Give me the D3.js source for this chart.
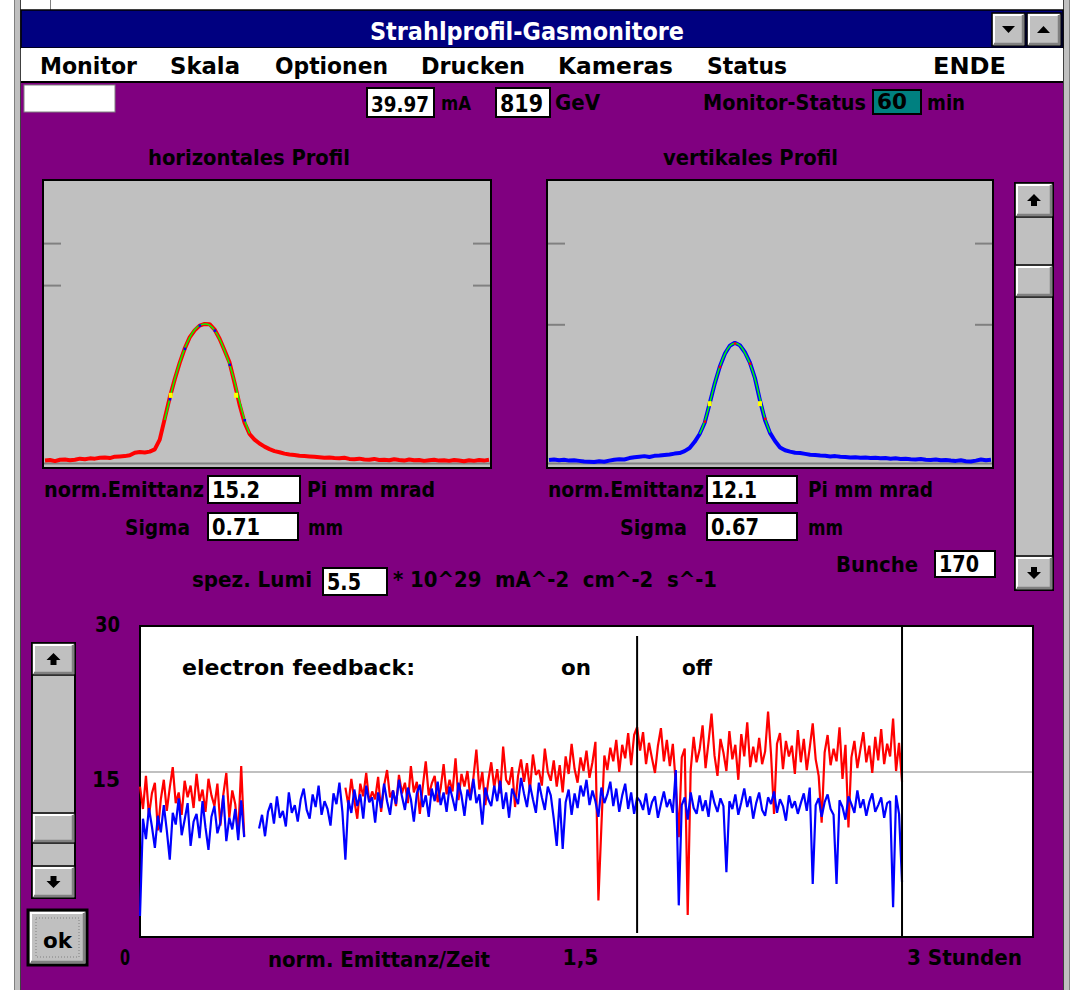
<!DOCTYPE html>
<html>
<head>
<meta charset="utf-8">
<script src="https://cdn.jsdelivr.net/npm/d3@7"></script>
<style>
  body { margin: 0; background: #fff; }
  svg text { font-family: "DejaVu Sans Condensed", "Liberation Sans Narrow", "DejaVu Sans", sans-serif; font-weight: bold; white-space: pre; }
</style>
</head>
<body>
<svg id="screen" width="1078" height="990"></svg>
<script>
// ---- Daten ----
const menuItems = ['Monitor', 'Skala', 'Optionen', 'Drucken', 'Kameras', 'Status', 'ENDE'];
const strom = '39.97', energie = '819', statusMin = '60';

// horizontales Profil (rot), ein Wert je Kanal
const hProfil = [0.5, 0.7, 0.3, 0.8, 0.9, 0.6, 0.8, 1.2, 1.0, 1.3,
  1.2, 1.5, 1.6, 1.4, 1.9, 2.0, 2.1, 2.4, 3.3, 3.6,
  3.4, 3.7, 4.5, 8.0, 15.5, 23.0, 29.5, 35.4, 40.5, 44.5,
  47.0, 48.7, 49.3, 49.2, 47.3, 44.0, 39.8, 35.5, 28.2, 20.5,
  14.0, 10.0, 8.0, 6.6, 5.5, 4.6, 3.9, 3.5, 3.0, 2.7,
  2.5, 2.2, 2.1, 2.0, 1.9, 1.7, 1.5, 1.6, 1.4, 1.3,
  1.5, 1.1, 1.0, 1.2, 0.9, 0.8, 1.1, 0.7, 0.8, 0.6,
  1.0, 0.7, 0.5, 0.9, 0.6, 0.7, 0.4, 0.6, 0.8, 0.5,
  0.6, 0.4, 0.7, 0.5, 0.3, 0.6, 0.4, 0.7, 0.5, 0.8];
const hFitStart = 24;
const hFit = [15.0, 22.5, 29.5, 35.5, 40.5, 44.4, 47.2, 48.8, 49.3, 48.9,
  47.0, 43.9, 39.7, 34.8, 28.6, 21.6, 15.0, 10.2];
const hSigmaPts = [[25.2, 24.0], [38.3, 24.0]];
const hTicks = [63, 78];

// vertikales Profil (blau)
const vProfil = [0.7, 0.9, 0.6, 0.8, 0.5, 0.6, 0.4, 0.2, 0.1, 0.0,
  0.3, 0.1, 0.5, 0.8, 1.0, 0.9, 1.4, 1.7, 1.9, 2.1,
  1.8, 2.2, 2.3, 2.5, 2.7, 3.0, 3.2, 3.9, 5.0, 7.2,
  10.0, 14.0, 21.0, 28.0, 34.0, 38.6, 41.5, 42.6, 41.7, 39.2,
  35.5, 30.0, 22.0, 15.0, 10.4, 7.5, 5.2, 4.2, 3.7, 3.3,
  3.2, 2.9, 2.6, 2.5, 2.3, 2.2, 2.0, 2.1, 1.9, 1.8,
  1.6, 1.7, 1.5, 1.6, 1.4, 1.5, 1.3, 1.4, 1.2, 1.3,
  1.1, 1.2, 1.0, 0.9, 1.1, 0.8, 0.7, 0.9, 0.6, 0.7,
  0.5, 0.4, 0.6, 0.3, 0.2, 0.5, 0.9, 0.6, 0.8];
const vFitStart = 30;
const vFit = [10.0, 14.5, 21.0, 28.0, 34.0, 38.5, 41.4, 42.4, 41.6, 39.0,
  35.2, 29.8, 22.5, 15.5, 10.5];
const vSigmaPts = [[32.0, 21.0], [42.0, 21.0]];
const vTicks = [49, 78];

// Emittanz ueber Zeit, ein Wert alle 0.01 Stunden ab 0
const dt = 0.01;
const emitH = [
  13.5, 11.2, 14.6, 10.5, 12.8, 13.9, 9.0, 12.2, 14.2, 11.0,
  13.4, 15.5, 11.8, 12.9, 10.6, 14.1, 12.4, 13.6, 11.3, 14.8,
  12.0, 13.2, 10.9, 14.3, 12.6, 11.5, 13.8, 9.5, 12.7, 14.9,
  10.3, 13.1, 11.7, 8.6, 15.6, 8.4,
  null, null, null, null, null, null, null, null, null, null,
  null, null, null, null, null, null, null, null, null, null,
  null, null, null, null, null, null, null, null, null, null,
  null, null, null,
  13.4, 11.6, 14.3, 12.1, 10.2, 13.8, 12.5, 14.9, 11.9, 13.0,
  12.2, 14.5, 10.9, 13.6, 15.2, 12.4, 13.1, 11.5, 14.7, 12.8,
  13.9, 11.8, 15.6, 12.9, 14.0, 10.7, 13.5, 16.1, 12.6, 13.8,
  14.6, 11.9, 13.3, 15.8, 12.7, 14.2, 13.0, 16.4, 12.1, 14.8,
  13.5, 15.1, 12.3, 14.4, 17.3, 13.2, 15.0, 11.6, 14.1, 16.0,
  13.4, 15.3, 12.8, 17.6, 14.2, 13.7, 15.5, 11.4, 14.6, 16.3,
  14.0, 15.9, 13.1, 16.8, 14.7, 15.2, 13.6, 17.4, 15.0, 14.1,
  16.2, 13.5, 15.7, 12.9, 16.6, 14.8, 17.9, 15.3, 13.9, 16.5,
  15.1, 17.2, 14.4, 16.0, 18.1, 1.8, 9.4, 16.7, 15.2, 17.5,
  16.1, 18.3, 15.0, 17.8, 16.4, 19.0, 15.7, 18.8, 19.6,
  17.2, 19.1, 15.8, 18.0, 16.4, 14.9, 17.7, 19.5, 16.1, 18.3,
  15.6, 17.9, 13.8, 8.3, 16.5, 17.4, 0.3, 15.2, 18.6, 16.0,
  17.3, 19.8, 15.4, 18.1, 21.0, 16.7, 14.6, 18.4, 17.0, 15.1,
  19.2, 16.3, 17.8, 14.2, 18.9, 16.6, 20.1, 15.5, 17.6, 16.0,
  18.5, 15.8, 17.1, 21.2, 16.8, 10.7, 17.9, 19.0, 15.3, 18.2,
  16.6, 17.7, 14.8, 19.3, 16.0, 18.4, 15.2, 17.5, 20.0, 16.3,
  14.6, 9.8, 17.0, 18.8, 15.7, 17.4, 16.1, 19.6, 14.3, 17.8,
  9.3, 16.5, 18.2, 15.4, 17.3, 19.1, 16.0, 17.7, 14.9, 18.6,
  16.2, 19.4, 15.8, 17.9, 16.6, 20.5, 15.1, 18.0, 14.0];
const emitV = [
  0.2, 10.2, 8.1, 11.3, 9.4, 7.2, 10.5, 8.8, 11.6, 9.0,
  6.0, 10.8, 9.6, 12.3, 8.5, 10.1, 11.8, 7.4, 9.9, 10.7,
  8.2, 12.0, 9.3, 7.0, 10.4, 11.5, 8.7, 9.8, 12.6, 7.9,
  10.3, 9.1, 11.2, 8.0, 12.1, 8.3,
  null, null, null, null,
  9.2, 10.6, 8.4, 10.9, 11.8, 9.7, 12.5, 10.3, 11.0, 9.4,
  12.9, 10.8, 11.6, 9.9, 12.2, 13.3, 11.1, 10.2, 12.7, 11.4,
  13.6, 10.6, 12.0, 11.2, 9.5, 12.8, 11.7, 13.9, 10.9,
  6.0, 12.1, 10.8, 13.2, 11.5, 12.7, 10.2, 13.6, 11.9, 12.4,
  9.8, 12.9, 11.3, 13.8, 12.0, 10.6, 13.1, 11.7, 14.2, 12.5,
  11.1, 13.4, 12.2, 9.9, 12.8, 13.7, 11.4, 12.6, 10.4, 13.3,
  12.0, 14.0, 11.6, 12.9, 10.9, 13.5, 12.3, 11.0, 13.9, 12.6,
  10.5, 13.2, 12.1, 14.3, 11.8, 12.7, 9.6, 13.4, 12.2, 11.5,
  13.6, 12.0, 14.1, 11.2, 12.9, 10.3, 13.3, 12.5, 11.7, 14.4,
  12.8, 11.4, 13.7, 12.2, 10.8, 13.9, 12.4, 11.1, 13.5, 12.6,
  10.2, 7.4, 12.3, 7.1, 11.9, 13.2, 10.6, 12.8, 11.3, 13.6,
  12.5, 14.2, 11.6, 13.1, 12.0, 10.4, 13.4, 11.8, 12.7, 14.0,
  11.5, 13.3, 10.9, 12.6, 13.8, 11.2, 12.9, 10.7, 12.4,
  12.0, 11.1, 12.8, 10.6, 11.9, 12.5, 10.3, 11.7, 13.0, 11.4,
  12.2, 10.8, 15.2, 1.3, 11.6, 12.4, 10.1, 12.9, 11.3, 10.7,
  12.6, 11.0, 12.1, 10.4, 13.1, 11.8, 10.9, 12.3, 11.5, 4.7,
  12.0, 11.2, 12.7, 10.6, 11.9, 13.3, 11.4, 12.5, 10.2, 11.8,
  12.9, 11.1, 10.5, 12.4, 11.7, 13.0, 10.8, 12.2, 11.5, 10.0,
  12.6, 11.3, 12.0, 10.7, 11.8, 12.8, 11.0, 13.4, 3.5, 11.6,
  12.3, 10.4, 11.9, 12.7, 11.2, 10.6, 3.5, 12.1, 11.4, 10.1,
  12.5, 11.7, 10.8, 13.1, 11.3, 12.2, 10.5, 11.9, 12.8, 10.9,
  11.6, 12.4, 10.3, 11.8, 12.0, 1.1, 12.6, 10.7, 3.7];
const feedbackSwitch = 1.67;   // Stunden
const cursorT = 2.56;
const yTicks = [30, 15];
const xTicks = [[0, '0'], [1.5, '1,5'], [3, '3 Stunden']];

// ---- Helfer ----
const svg = d3.select('#screen');

function txt(g, x, y, s, size, w, color) {
  const t = g.append('text').attr('x', x).attr('y', y)
    .attr('font-size', size).attr('fill', color || '#000').text(s);
  if (w) t.attr('textLength', w).attr('lengthAdjust', 'spacingAndGlyphs');
  return t;
}

function field(x, y, w, h, s, size, tw, fill) {
  svg.append('rect').attr('x', x).attr('y', y).attr('width', w).attr('height', h)
    .attr('fill', fill || '#fff').attr('stroke', '#000').attr('stroke-width', 2);
  txt(svg, x + 4, y + h - 5, s, size, tw);
}

function bevel(x, y, w, h) {
  svg.append('rect').attr('x', x).attr('y', y).attr('width', w).attr('height', h)
    .attr('fill', '#c0c0c0').attr('stroke', '#000').attr('stroke-width', 1.5);
  svg.append('path').attr('d', `M${x + 2},${y + h - 2}V${y + 2}H${x + w - 2}`)
    .attr('fill', 'none').attr('stroke', '#fff').attr('stroke-width', 2);
  svg.append('path').attr('d', `M${x + 2},${y + h - 2}H${x + w - 2}V${y + 2}`)
    .attr('fill', 'none').attr('stroke', '#808080').attr('stroke-width', 2.5);
}

function arrow(cx, cy, dir) {
  const s = dir; // -1 hoch, 1 runter
  svg.append('path').attr('fill', '#000')
    .attr('d', `M${cx - 7},${cy - s} L${cx},${cy + s * 6} L${cx + 7},${cy - s} L${cx + 3},${cy - s} L${cx + 3},${cy - s * 6} L${cx - 3},${cy - s * 6} L${cx - 3},${cy - s} Z`);
}

function scrollbar(x, y, w, h, btn, thumbY, thumbH) {
  svg.append('rect').attr('x', x).attr('y', y).attr('width', w).attr('height', h)
    .attr('fill', '#c0c0c0').attr('stroke', '#000').attr('stroke-width', 2);
  bevel(x, y, w, btn);
  arrow(x + w / 2, y + btn / 2, -1);
  bevel(x, y + h - btn, w, btn);
  arrow(x + w / 2, y + h - btn / 2, 1);
  bevel(x, thumbY, w, thumbH);
}

// ---- Fensterrahmen ----
svg.append('rect').attr('x', 14).attr('y', 0).attr('width', 7).attr('height', 990).attr('fill', '#c0c0c0');
svg.append('line').attr('x1', 14.5).attr('x2', 14.5).attr('y1', 0).attr('y2', 990).attr('stroke', '#808080');
svg.append('line').attr('x1', 20.5).attr('x2', 20.5).attr('y1', 0).attr('y2', 990).attr('stroke', '#404040');
svg.append('rect').attr('x', 1063).attr('y', 0).attr('width', 7).attr('height', 990).attr('fill', '#c0c0c0');
svg.append('line').attr('x1', 1063.5).attr('x2', 1063.5).attr('y1', 0).attr('y2', 990).attr('stroke', '#404040');
svg.append('line').attr('x1', 1069.5).attr('x2', 1069.5).attr('y1', 0).attr('y2', 990).attr('stroke', '#808080');
svg.append('line').attr('x1', 50.5).attr('x2', 50.5).attr('y1', 0).attr('y2', 10).attr('stroke', '#808080');

svg.append('rect').attr('x', 21).attr('y', 10).attr('width', 1042).attr('height', 38)
  .attr('fill', '#000080').attr('stroke', '#000').attr('stroke-width', 1.5);
txt(svg, 370, 40, 'Strahlprofil-Gasmonitore', 25, 314, '#fff');
bevel(992, 13, 33, 33);
svg.append('path').attr('d', 'M1002,26 L1015,26 L1008.5,33 Z').attr('fill', '#000');
bevel(1027, 13, 34, 33);
svg.append('path').attr('d', 'M1037,33 L1050,33 L1043.5,26 Z').attr('fill', '#000');

svg.append('rect').attr('x', 21).attr('y', 48).attr('width', 1042).attr('height', 34).attr('fill', '#fff');
svg.append('line').attr('x1', 21).attr('x2', 1063).attr('y1', 82).attr('y2', 82).attr('stroke', '#000').attr('stroke-width', 2);
const menuX = [40, 170, 275, 421, 558, 707, 933];
const menuW = [97, 70, 113, 104, 115, 80, 73];
menuItems.forEach((m, i) => txt(svg, menuX[i], 74, m, 23, menuW[i]));

svg.append('rect').attr('x', 21).attr('y', 83).attr('width', 1042).attr('height', 907).attr('fill', '#800080');

// ---- Statuszeile ----
svg.append('rect').attr('x', 24).attr('y', 85).attr('width', 91).attr('height', 27)
  .attr('fill', '#fff').attr('stroke', '#808080');
field(367, 88, 67, 29, strom, 22, 58);
txt(svg, 441, 110, 'mA', 20, 30);
field(496, 88, 54, 29, energie, 24, 43);
txt(svg, 555, 110, 'GeV', 21, 45);
txt(svg, 703, 110, 'Monitor-Status', 21, 163);
field(873, 90, 48, 24, statusMin, 22, 30, '#008080');
txt(svg, 927, 110, 'min', 21, 38);

// ---- Profile ----
function profile(x0, x1, data, fitStart, fit, sigmaPts, ticks, color, dotColor, title, titleX, titleW) {
  const top = 180, bottom = 468;
  txt(svg, titleX, 165, title, 22, titleW);
  svg.append('rect').attr('x', x0).attr('y', top).attr('width', x1 - x0).attr('height', bottom - top)
    .attr('fill', '#c0c0c0').attr('stroke', '#000').attr('stroke-width', 2);
  const x = d3.scaleLinear().domain([0, data.length - 1]).range([x0 + 2, x1 - 2]);
  const y = d3.scaleLinear().domain([0, 100]).range([462, 182]);
  svg.append('line').attr('x1', x0 + 1).attr('x2', x1 - 1).attr('y1', 463.5).attr('y2', 463.5)
    .attr('stroke', '#808080').attr('stroke-width', 2);
  ticks.forEach(t => {
    svg.append('line').attr('x1', x0 + 1).attr('x2', x0 + 18).attr('y1', y(t)).attr('y2', y(t)).attr('stroke', '#808080').attr('stroke-width', 2);
    svg.append('line').attr('x1', x1 - 18).attr('x2', x1 - 1).attr('y1', y(t)).attr('y2', y(t)).attr('stroke', '#808080').attr('stroke-width', 2);
  });
  const line = d3.line().x((d, i) => x(i)).y(d => y(d));
  svg.append('path').datum(data).attr('d', line).attr('fill', 'none')
    .attr('stroke', color).attr('stroke-width', 4).attr('stroke-linejoin', 'bevel');
  const fitLine = d3.line().x((d, i) => x(fitStart + i)).y(d => y(d)).curve(d3.curveCardinal);
  svg.append('path').datum(fit).attr('d', fitLine).attr('fill', 'none')
    .attr('stroke', '#00ff00').attr('stroke-width', 1.5);
  fit.forEach((d, i) => {
    if (i % 3 === 1) svg.append('rect').attr('x', x(fitStart + i) - 1).attr('y', y(d) - 1)
      .attr('width', 2.5).attr('height', 2.5).attr('fill', dotColor);
  });
  sigmaPts.forEach(p => svg.append('rect').attr('x', x(p[0]) - 2).attr('y', y(p[1]) - 2)
    .attr('width', 4).attr('height', 5).attr('fill', '#ffff00'));
}
profile(43, 491, hProfil, hFitStart, hFit, hSigmaPts, hTicks, '#ff0000', '#0000ff', 'horizontales Profil', 148, 202);
profile(547, 993, vProfil, vFitStart, vFit, vSigmaPts, vTicks, '#0000ff', '#ff0000', 'vertikales Profil', 663, 175);

scrollbar(1015, 183, 38, 407, 34, 265, 32);

// ---- Kenngroessen ----
txt(svg, 44, 497, 'norm.Emittanz', 22, 160);
field(208, 476, 92, 27, '15.2', 23, 48);
txt(svg, 307, 497, 'Pi mm mrad', 22, 128);
txt(svg, 125, 535, 'Sigma', 22, 65);
field(208, 513, 90, 27, '0.71', 23, 48);
txt(svg, 308, 535, 'mm', 22, 35);

txt(svg, 548, 497, 'norm.Emittanz', 22, 156);
field(707, 476, 90, 27, '12.1', 23, 46);
txt(svg, 808, 497, 'Pi mm mrad', 22, 125);
txt(svg, 620, 535, 'Sigma', 22, 67);
field(707, 513, 90, 27, '0.67', 23, 48);
txt(svg, 808, 535, 'mm', 22, 35);

txt(svg, 836, 572, 'Bunche', 22, 82);
field(935, 551, 60, 26, '170', 23, 40);

txt(svg, 192, 587, 'spez. Lumi', 22, 120);
field(323, 568, 64, 27, '5.5', 23, 34);
txt(svg, 393, 587, '* 10^29  mA^-2  cm^-2  s^-1', 22, 324);

// ---- Emittanz/Zeit ----
const cx0 = 140, cx1 = 1033, cy0 = 626, cy1 = 937;
svg.append('rect').attr('x', cx0).attr('y', cy0).attr('width', cx1 - cx0).attr('height', cy1 - cy0)
  .attr('fill', '#fff').attr('stroke', '#000').attr('stroke-width', 2);
const xT = d3.scaleLinear().domain([0, 3]).range([cx0, cx1]);
const yT = d3.scaleLinear().domain([0, 30]).range([918, cy0]);

svg.append('line').attr('x1', cx0 + 1).attr('x2', cx1 - 1).attr('y1', yT(15)).attr('y2', yT(15))
  .attr('stroke', '#c0c0c0').attr('stroke-width', 2);

const tLine = d3.line().defined(d => d != null)
  .x((d, i) => xT(i * dt)).y(d => yT(d));
svg.append('path').datum(emitH).attr('d', tLine).attr('fill', 'none')
  .attr('stroke', '#ff0000').attr('stroke-width', 2.2).attr('stroke-linejoin', 'bevel');
svg.append('path').datum(emitV).attr('d', tLine).attr('fill', 'none')
  .attr('stroke', '#0000ff').attr('stroke-width', 2.2).attr('stroke-linejoin', 'bevel');

svg.append('line').attr('x1', xT(feedbackSwitch)).attr('x2', xT(feedbackSwitch))
  .attr('y1', cy0 + 10).attr('y2', cy1 - 4).attr('stroke', '#000').attr('stroke-width', 2);
svg.append('line').attr('x1', xT(cursorT)).attr('x2', xT(cursorT))
  .attr('y1', cy0).attr('y2', cy1).attr('stroke', '#000').attr('stroke-width', 2);

txt(svg, 182, 675, 'electron feedback:', 22, 233);
txt(svg, 561, 675, 'on', 22, 30);
txt(svg, 682, 675, 'off', 22, 30);

txt(svg, 120, yT(yTicks[0]) + 6, String(yTicks[0]), 22, 25).attr('text-anchor', 'end');
txt(svg, 120, yT(yTicks[1]) + 15, String(yTicks[1]), 22, 28).attr('text-anchor', 'end');
const xTickW = [10, 36, 115];
const xTickDx = [-10, -6, -11];
xTicks.forEach((t, i) => {
  txt(svg, xT(t[0]) + xTickDx[i], 965, t[1], 22, xTickW[i])
    .attr('text-anchor', i === 1 ? 'middle' : 'end');
});
txt(svg, 268, 967, 'norm. Emittanz/Zeit', 22, 222);

scrollbar(32, 643, 43, 255, 32, 813, 30);

// ok-Knopf
svg.append('rect').attr('x', 28).attr('y', 910).attr('width', 59).attr('height', 55)
  .attr('fill', '#c0c0c0').attr('stroke', '#000').attr('stroke-width', 3);
svg.append('path').attr('d', 'M31,962V913H84').attr('fill', 'none').attr('stroke', '#fff').attr('stroke-width', 2);
svg.append('path').attr('d', 'M31,962H84V913').attr('fill', 'none').attr('stroke', '#808080').attr('stroke-width', 2.5);
svg.append('rect').attr('x', 36).attr('y', 918).attr('width', 43).attr('height', 39)
  .attr('fill', 'none').attr('stroke', '#808080').attr('stroke-dasharray', '1,2');
txt(svg, 43, 948, 'ok', 22, 29);
</script>
</body>
</html>
